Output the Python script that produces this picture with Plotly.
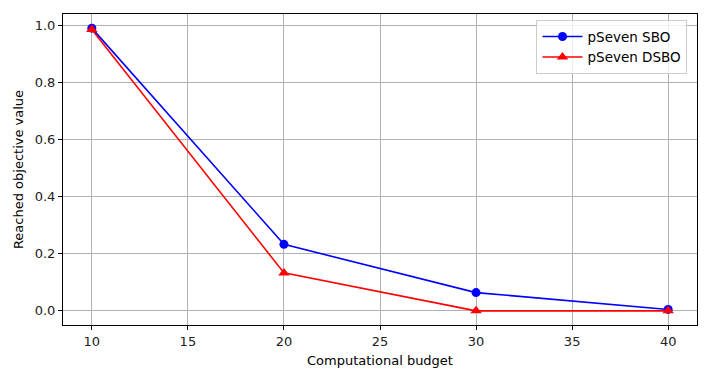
import plotly.graph_objects as go

budget = [10, 20, 30, 40]
sbo = [0.99, 0.233, 0.064, 0.005]
dsbo = [0.985, 0.133, 0.0, 0.0]
x_ticks = [10, 15, 20, 25, 30, 35, 40]
y_ticks = [0.0, 0.2, 0.4, 0.6, 0.8, 1.0]

fig = go.Figure()
fig.add_trace(go.Scatter(x=budget, y=sbo, mode="lines+markers", name="pSeven SBO",
                         line=dict(color="blue", width=1.6),
                         marker=dict(symbol="circle", size=9, color="blue")))
fig.add_trace(go.Scatter(x=budget, y=dsbo, mode="lines+markers", name="pSeven DSBO",
                         line=dict(color="red", width=1.6),
                         marker=dict(symbol="triangle-up", size=10, color="red")))

axis_common = dict(showline=True, linecolor="black", linewidth=1, mirror=True,
                   ticks="outside", ticklen=4, tickcolor="black",
                   showgrid=True, gridcolor="#b0b0b0", gridwidth=1, zeroline=False,
                   tickfont=dict(size=13, color="#222"), automargin=False)

fig.update_layout(
    width=713, height=382,
    margin=dict(l=63, r=16, t=14, b=57),
    paper_bgcolor="white", plot_bgcolor="white",
    font=dict(family="DejaVu Sans", size=13, color="black"),
    showlegend=True,
    legend=dict(x=0.985, y=0.98, xanchor="right", yanchor="top",
                bgcolor="rgba(255,255,255,0.8)", bordercolor="#cccccc", borderwidth=1,
                font=dict(size=13.5), tracegroupgap=0, itemwidth=40),
)
fig.update_xaxes(range=[8.5, 41.5], tickvals=x_ticks,
                 title=dict(text="Computational budget", font=dict(size=13), standoff=8),
                 **axis_common)
fig.update_yaxes(range=[-0.0495, 1.0395], tickvals=y_ticks, tickformat=".1f",
                 title=dict(text="Reached objective value", font=dict(size=13), standoff=8),
                 **axis_common)

fig.write_html("out.html", config={"displayModeBar": False},
               post_script="document.body.style.margin='0';document.body.style.overflow='hidden';")
